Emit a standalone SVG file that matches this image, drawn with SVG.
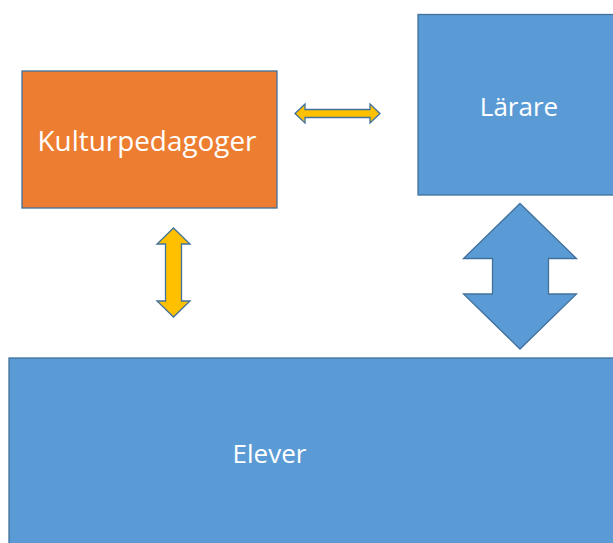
<svg xmlns="http://www.w3.org/2000/svg" width="613" height="543" viewBox="0 0 613 543">
  <style>
    .box { stroke: #41719C; stroke-width: 1.3; }
    .blue { fill: #5B9BD5; }
    .orange { fill: #ED7D31; }
    .label { fill: #FFFFFF; font-family: "Open Sans", "Noto Sans", sans-serif; font-size: 26px; text-anchor: middle; }
    .yellow { fill: #FFC000; stroke: #41719C; stroke-width: 1.3; stroke-linejoin: miter; }
    .bigarrow { fill: #5B9BD5; stroke: #41719C; stroke-width: 1.3; }
  </style>
  <rect width="613" height="543" fill="#FFFFFF"/>

  <g id="kulturpedagoger">
    <rect class="box orange" x="22" y="71" width="255" height="137"/>
    <text class="label" x="147" y="151" style="font-size:27px" textLength="219" lengthAdjust="spacingAndGlyphs">Kulturpedagoger</text>
  </g>

  <g id="larare">
    <rect class="box blue" x="418" y="14.5" width="200" height="180.5"/>
    <text class="label" x="519" y="116">Lärare</text>
  </g>

  <g id="elever">
    <rect class="box blue" x="9" y="358" width="610" height="190"/>
    <text class="label" x="269.5" y="463">Elever</text>
  </g>

  <g id="connectors">
    <!-- Kulturpedagoger <-> Lärare -->
    <path class="yellow" d="M295,113.5 L305,104 L305,109.5 L370,109.5 L370,104 L380,113.5 L370,123 L370,117.5 L305,117.5 L305,123 Z"/>
    <!-- Kulturpedagoger <-> Elever -->
    <path class="yellow" d="M173.5,228 L190,244 L181.5,244 L181.5,301 L190,301 L173.5,317 L157,301 L165.5,301 L165.5,244 L157,244 Z"/>
    <!-- Lärare <-> Elever -->
    <path class="bigarrow" d="M520,203.5 L576.5,258.5 L548.5,258.5 L548.5,294 L576.5,294 L520,349 L463.5,294 L492.5,294 L492.5,258.5 L463.5,258.5 Z"/>
  </g>
</svg>
